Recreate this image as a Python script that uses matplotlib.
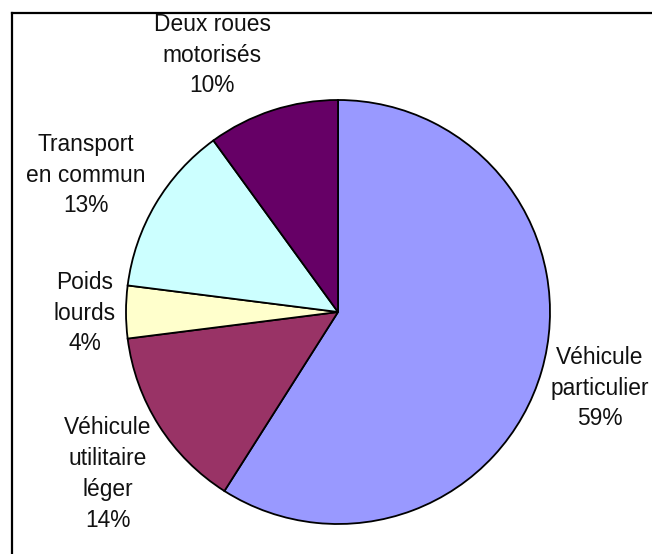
import matplotlib
matplotlib.use("Agg")
import matplotlib.pyplot as plt
from matplotlib.lines import Line2D

categories = ["Véhicule\nparticulier", "Véhicule\nutilitaire\nléger", "Poids\nlourds",
              "Transport\nen commun", "Deux roues\nmotorisés"]
values = [59, 14, 4, 13, 10]
colors = ["#9999FF", "#993366", "#FFFFCC", "#CCFFFF", "#660066"]

W, H = 652, 554
fig = plt.figure(figsize=(W / 100, H / 100), dpi=100)
ax = fig.add_axes([0, 0, 1, 1])

cx, cy, r = 338, H - 312, 212
ax.pie(values, colors=colors, startangle=90, counterclock=False,
       center=(cx, cy), radius=r, frame=True,
       wedgeprops=dict(edgecolor="black", linewidth=1.3))
ax.set_xlim(0, W)
ax.set_ylim(0, H)
ax.set_axis_off()

# label anchor points (pixel coordinates from top-left)
label_pos = [(600, 388), (108, 474), (85, 313), (86, 175), (212, 55)]
for name, v, (x, y) in zip(categories, values, label_pos):
    ax.text(x, H - y, f"{name}\n{v}%", ha="center", va="center",
            fontsize=16.4, family="Liberation Sans", color="#111111",
            linespacing=1.43)

# partial frame (left and top)
fig.add_artist(Line2D([11.5 / W, 11.5 / W], [0, 1 - 12.5 / H], transform=fig.transFigure,
                      color="black", linewidth=1.6))
fig.add_artist(Line2D([11.5 / W, 1], [1 - 12.5 / H, 1 - 12.5 / H], transform=fig.transFigure,
                      color="black", linewidth=1.6))

fig.savefig("out.png", dpi=100, facecolor="white")
